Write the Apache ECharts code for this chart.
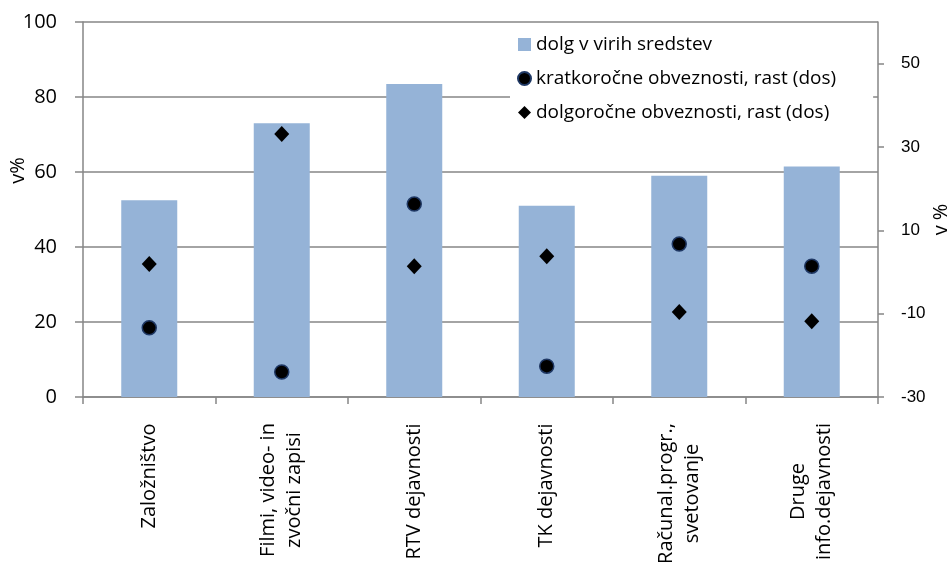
<!DOCTYPE html>
<html>
<head>
<meta charset="utf-8">
<script src="https://cdn.jsdelivr.net/npm/echarts@6/dist/echarts.min.js"></script>
<style>
  html, body { margin: 0; padding: 0; background: #fff; }
  #grafico { width: 949px; height: 564px; }
</style>
</head>
<body>
<div id="grafico"></div>
<script>
// --- podatki ---
const kategorije = ['Založništvo', 'Filmi, video- in\nzvočni zapisi', 'RTV dejavnosti', 'TK dejavnosti', 'Računal.progr.,\nsvetovanje', 'Druge\ninfo.dejavnosti'];
const dolgVirih = [52.5, 73, 83.5, 51, 59, 61.5];
const kratkorocne = [-13.4, -24, 16.3, -22.6, 6.7, 1.4];
const dolgorocne = [1.9, 33.1, 1.4, 3.8, -9.6, -11.8];

const imenaSerij = ['dolg v virih sredstev', 'kratkoročne obveznosti, rast (dos)', 'dolgoročne obveznosti, rast (dos)'];

const pisava = '"Open Sans", "Liberation Sans", sans-serif';
const pisavaDesno = '"Liberation Sans", Arial, sans-serif';
const sivaCrta = '#868686';
const velikostKat = 20;

// merjenje širine vrstic, da so večvrstične oznake centrirane
const ctx = document.createElement('canvas').getContext('2d');
ctx.font = velikostKat + 'px ' + pisava;
const rich = {};
kategorije.forEach((k, i) => {
    const w = Math.max(...k.split('\n').map(l => ctx.measureText(l).width));
    rich['c' + i] = { width: Math.ceil(w), align: 'center', fontSize: velikostKat, fontFamily: pisava, lineHeight: 26, color: '#000' };
});

const chartDom = document.getElementById('grafico');
const myChart = echarts.init(chartDom);

const option = {
    animation: false,
    grid: { left: 83, right: 71, top: 22, bottom: 167, outerBoundsMode: 'none' },
    legend: {
        orient: 'vertical',
        left: 510,
        top: 29,
        padding: [6, 37, 8, 7],
        backgroundColor: '#fff',
        itemWidth: 13,
        itemHeight: 13,
        itemGap: 15,
        textStyle: { fontSize: 19, fontFamily: pisava, color: '#000' },
        data: [
            { name: imenaSerij[0], icon: 'rect' },
            { name: imenaSerij[1], icon: 'circle' },
            { name: imenaSerij[2], icon: 'diamond' }
        ]
    },
    xAxis: {
        type: 'category',
        data: kategorije,
        axisLine: { lineStyle: { color: sivaCrta, width: 1.5 } },
        axisTick: { show: true, length: 7, lineStyle: { color: sivaCrta, width: 1.5 } },
        axisLabel: {
            interval: 0,
            rotate: 90,
            margin: 26,
            fontSize: velikostKat,
            fontFamily: pisava,
            color: '#000',
            rich: rich,
            formatter: (v, idx) => v.split('\n').map(l => '{c' + idx + '|' + l + '}').join('\n')
        }
    },
    yAxis: [
        {
            // glavna leva os: črta, oznake in mreža
            type: 'value',
            min: 0,
            max: 100,
            interval: 20,
            name: 'v%',
            nameLocation: 'middle',
            nameGap: 55,
            nameRotate: 90,
            nameMoveOverlap: false,
            nameTextStyle: { fontSize: 20, fontFamily: pisava, color: '#000', padding: [0, 0, 0, 78] },
            axisLine: { show: true, lineStyle: { color: sivaCrta, width: 1.5 } },
            axisTick: { show: true, length: 8, lineStyle: { color: sivaCrta, width: 1.5 } },
            axisLabel: { show: false },
            splitLine: { show: true, lineStyle: { color: sivaCrta, width: 1.5 } }
        },
        {
            type: 'value',
            min: -30,
            max: 60,
            interval: 20,
            position: 'right',
            name: 'v %',
            nameLocation: 'middle',
            nameGap: 53,
            nameRotate: 90,
            nameMoveOverlap: false,
            nameTextStyle: { fontSize: 20, fontFamily: pisava, color: '#000', padding: [0, 20, 0, 0] },
            axisLine: { show: true, lineStyle: { color: sivaCrta, width: 1.5 } },
            axisTick: { show: true, length: 6, lineStyle: { color: sivaCrta, width: 1.5 } },
            axisLabel: { fontSize: 17, fontFamily: pisavaDesno, color: '#000', margin: 23, showMaxLabel: false },
            splitLine: { show: false }
        },
        {
            // samo oznake leve osi, zamaknjene stran od črte
            type: 'value',
            min: 0,
            max: 100,
            interval: 20,
            position: 'left',
            offset: 16,
            axisLine: { show: false },
            axisTick: { show: false },
            axisLabel: { fontSize: 20, fontFamily: pisava, color: '#000', margin: 10 },
            splitLine: { show: false }
        }
    ],
    series: [
        {
            name: imenaSerij[0],
            type: 'bar',
            yAxisIndex: 0,
            data: dolgVirih,
            barWidth: 56,
            itemStyle: { color: '#95B3D7' }
        },
        {
            name: imenaSerij[1],
            type: 'scatter',
            yAxisIndex: 1,
            data: kratkorocne,
            symbol: 'circle',
            symbolSize: 14,
            itemStyle: { color: '#000', borderColor: '#1F3864', borderWidth: 1.5, opacity: 1 }
        },
        {
            name: imenaSerij[2],
            type: 'scatter',
            yAxisIndex: 1,
            data: dolgorocne,
            symbol: 'diamond',
            symbolSize: [15, 16],
            itemStyle: { color: '#000', opacity: 1 }
        }
    ]
};

option && myChart.setOption(option);

window.addEventListener('resize', () => {
    myChart.resize();
});
</script>
</body>
</html>
